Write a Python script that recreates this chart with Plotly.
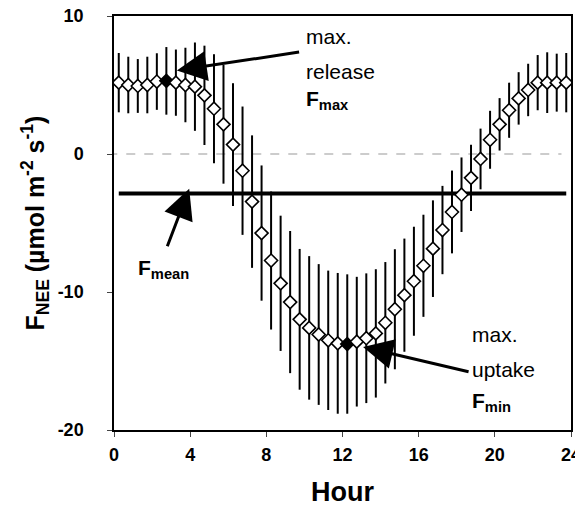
import plotly.graph_objects as go

# Half-hourly mean diel course of net ecosystem exchange
hours = [0.25 + 0.5 * i for i in range(48)]
fnee = [5.17, 5.0, 4.93, 5.0, 5.25, 5.3, 5.17, 5.0, 4.88, 4.25,
        3.28, 2.15, 0.68, -1.21, -3.45, -5.73, -7.72, -9.37, -10.73, -11.98,
        -12.6, -13.08, -13.5, -13.72, -13.77, -13.6, -13.35, -13.0, -12.23, -11.25,
        -10.23, -9.22, -8.1, -6.86, -5.51, -4.2, -2.95, -1.73, -0.36, 1.03,
        2.15, 3.17, 4.03, 4.64, 5.17, 5.17, 5.17, 5.17]
fnee_err = [2.15, 2.05, 1.95, 2.05, 2.05, 2.45, 2.4, 2.7, 3.2, 3.6,
            3.95, 4.3, 4.45, 4.65, 4.8, 4.9, 5.0, 4.9, 5.15, 5.1,
            5.2, 5.1, 5.05, 5.1, 5.05, 4.7, 4.7, 4.65, 4.4, 4.35,
            4.1, 3.95, 3.7, 3.5, 3.2, 3.0, 2.7, 2.4, 2.2, 2.1,
            1.9, 2.0, 1.9, 1.9, 2.0, 2.2, 2.1, 2.15]
x_ticks = [0, 4, 8, 12, 16, 20, 24]
y_ticks = [-20, -10, 0, 10]
y_tick_labels = ["-20", "-10", "0", "10"]

f_mean = sum(fnee) / len(fnee)
i_max = fnee.index(max(fnee))
i_min = fnee.index(min(fnee))

FONT = "Arial, Liberation Sans, sans-serif"

fig = go.Figure()

# mean line
fig.add_trace(go.Scatter(x=[hours[0], hours[-1]], y=[f_mean, f_mean], mode="lines",
                         line=dict(color="black", width=4), hoverinfo="skip"))

# error bars + open diamonds
fig.add_trace(go.Scatter(
    x=hours, y=fnee, mode="markers",
    error_y=dict(type="data", array=fnee_err, visible=True, color="black",
                 thickness=2, width=0),
    marker=dict(symbol="diamond", size=10,
                color=["black" if i in (i_max, i_min) else "white" for i in range(len(fnee))],
                line=dict(color="black", width=1.6)),
))

fig.add_shape(type="line", xref="x", yref="y", x0=-0.3, x1=23.5, y0=0, y1=0,
              line=dict(color="#999999", width=1, dash="dash"), layer="below")

# arrows
arrows = [
    (hours[i_max] + 0.55, fnee[i_max] + 0.75, 9.8, 7.4),
    (3.95, f_mean + 0.35, 2.77, -6.8),
    (hours[i_min] + 0.83, fnee[i_min] - 0.22, 18.7, -15.8),
]
for x, y, ax, ay in arrows:
    fig.add_annotation(x=x, y=y, ax=ax, ay=ay, xref="x", yref="y", axref="x", ayref="y",
                       text="", showarrow=True, arrowhead=2, arrowsize=2.0,
                       arrowwidth=3, arrowcolor="black")

labels = [
    (10.0, 8.5, "max."),
    (10.0, 5.95, "release"),
    (10.0, 3.9, "<b>F<sub>max</sub></b>"),
    (1.15, -8.3, "<b>F<sub>mean</sub></b>"),
    (18.7, -13.1, "max."),
    (18.7, -15.65, "uptake"),
    (18.7, -18.0, "<b>F<sub>min</sub></b>"),
]
for x, y, t in labels:
    fig.add_annotation(x=x, y=y, xref="x", yref="y", text=t, showarrow=False,
                       xanchor="left", yanchor="middle",
                       font=dict(family=FONT, size=21, color="black"))

fig.update_layout(
    width=575, height=502,
    margin=dict(l=106, r=12, t=8, b=80),
    paper_bgcolor="white", plot_bgcolor="white",
    showlegend=False,
    font=dict(family=FONT, color="black"),
)
fig.update_xaxes(range=[0, 24], tickvals=x_ticks, ticks="outside", ticklen=5,
                 showline=True, mirror=True, linecolor="black", linewidth=1.5,
                 showgrid=False, zeroline=False, automargin=False,
                 ticklabeloverflow="allow", ticklabelstandoff=3,
                 tickfont=dict(family=FONT, size=18, weight="bold"),
                 title=dict(text="<b>Hour</b>", font=dict(family=FONT, size=27), standoff=18))
fig.update_yaxes(range=[-20, 10], tickvals=y_ticks, ticktext=y_tick_labels,
                 ticks="outside", ticklen=5,
                 showline=True, mirror=True, linecolor="black", linewidth=1.5,
                 showgrid=False, zeroline=False, ticklabelstandoff=20, automargin=False,
                 ticklabeloverflow="allow",
                 tickfont=dict(family=FONT, size=18, weight="bold"),
                 title=dict(text="<b>F<sub>NEE</sub> (µmol m<sup>-2</sup> s<sup>-1</sup>)</b>",
                            font=dict(family=FONT, size=25), standoff=6))

fig.write_html("out.html")
